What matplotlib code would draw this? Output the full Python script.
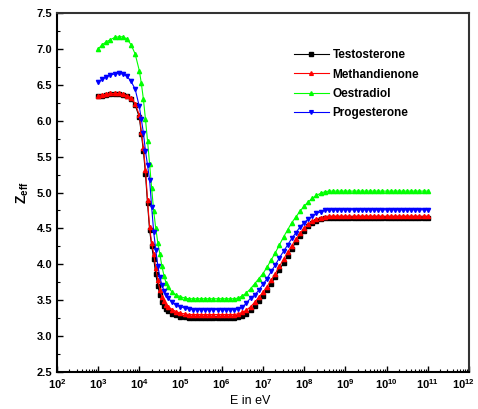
import matplotlib
matplotlib.use('Agg')
import matplotlib.pyplot as plt
from matplotlib.transforms import ScaledTranslation
from matplotlib.ticker import LogLocator, LogFormatterMathtext, MultipleLocator, NullFormatter

plt.rcParams['font.family'] = ['Liberation Sans', 'DejaVu Sans']
plt.rcParams['font.weight'] = 'bold'
plt.rcParams['mathtext.fontset'] = 'custom'
plt.rcParams['mathtext.rm'] = 'Liberation Sans:bold'
plt.rcParams['mathtext.default'] = 'rm'

# log10 of the photon energy (eV)
log_e = [3.0, 3.1, 3.2, 3.3, 3.4, 3.5, 3.6, 3.7, 3.8, 3.9, 4.0,
         4.05, 4.1, 4.15, 4.2, 4.25, 4.3, 4.35, 4.4, 4.45, 4.5, 4.55, 4.6, 4.65, 4.7,
         4.8, 4.9, 5.0, 5.1, 5.2, 5.3, 5.4, 5.5, 5.6, 5.7, 5.8, 5.9, 6.0, 6.1, 6.2, 6.3,
         6.4, 6.5, 6.6, 6.7, 6.8, 6.9, 7.0, 7.1, 7.2, 7.3, 7.4, 7.5, 7.6, 7.7, 7.8, 7.9,
         8.0, 8.1, 8.2, 8.3, 8.4, 8.5, 8.6, 8.7, 8.8, 8.9, 9.0, 9.1, 9.2, 9.3, 9.4, 9.5,
         9.6, 9.7, 9.8, 9.9, 10.0, 10.1, 10.2, 10.3, 10.4, 10.5, 10.6, 10.7, 10.8, 10.9, 11.0]

testosterone = [6.34, 6.35, 6.36, 6.37, 6.37, 6.37, 6.36, 6.34, 6.30, 6.22, 6.05,
                5.82, 5.58, 5.26, 4.85, 4.48, 4.26, 4.08, 3.86, 3.70, 3.57, 3.48, 3.42, 3.38, 3.35,
                3.31, 3.29, 3.27, 3.26, 3.25, 3.25, 3.25, 3.25, 3.25, 3.25, 3.25, 3.25, 3.25, 3.25, 3.25, 3.25,
                3.26, 3.28, 3.31, 3.36, 3.42, 3.49, 3.56, 3.64, 3.73, 3.82, 3.92, 4.02, 4.12, 4.22, 4.31, 4.40,
                4.47, 4.53, 4.58, 4.61, 4.63, 4.64, 4.65, 4.65, 4.65, 4.65, 4.65, 4.65, 4.65, 4.65, 4.65, 4.65,
                4.65, 4.65, 4.65, 4.65, 4.65, 4.65, 4.65, 4.65, 4.65, 4.65, 4.65, 4.65, 4.65, 4.65, 4.65]

methandienone = [6.35, 6.36, 6.37, 6.38, 6.38, 6.38, 6.37, 6.35, 6.32, 6.24, 6.08,
                 5.85, 5.62, 5.32, 4.90, 4.52, 4.30, 4.15, 3.95, 3.78, 3.64, 3.55, 3.49, 3.44, 3.41,
                 3.37, 3.34, 3.32, 3.31, 3.30, 3.30, 3.30, 3.30, 3.30, 3.30, 3.30, 3.30, 3.30, 3.30, 3.30, 3.30,
                 3.31, 3.33, 3.36, 3.41, 3.47, 3.54, 3.61, 3.69, 3.78, 3.87, 3.97, 4.07, 4.17, 4.26, 4.35, 4.43,
                 4.50, 4.56, 4.60, 4.63, 4.65, 4.66, 4.67, 4.67, 4.67, 4.67, 4.67, 4.67, 4.67, 4.67, 4.67, 4.67,
                 4.67, 4.67, 4.67, 4.67, 4.67, 4.67, 4.67, 4.67, 4.67, 4.67, 4.67, 4.67, 4.67, 4.67, 4.67]

oestradiol = [7.00, 7.06, 7.10, 7.13, 7.16, 7.17, 7.17, 7.14, 7.06, 6.93, 6.70,
              6.52, 6.30, 6.02, 5.72, 5.40, 5.06, 4.74, 4.50, 4.30, 4.14, 3.97, 3.84, 3.74, 3.68,
              3.61, 3.57, 3.55, 3.53, 3.52, 3.52, 3.52, 3.52, 3.52, 3.52, 3.52, 3.52, 3.52, 3.52, 3.52, 3.52,
              3.53, 3.56, 3.60, 3.66, 3.73, 3.80, 3.87, 3.96, 4.06, 4.16, 4.27, 4.38, 4.48, 4.58, 4.66, 4.74,
              4.81, 4.87, 4.92, 4.96, 4.99, 5.01, 5.02, 5.02, 5.02, 5.02, 5.02, 5.02, 5.02, 5.02, 5.02, 5.02,
              5.02, 5.02, 5.02, 5.02, 5.02, 5.02, 5.02, 5.02, 5.02, 5.02, 5.02, 5.02, 5.02, 5.02, 5.02]

progesterone = [6.54, 6.58, 6.61, 6.64, 6.65, 6.66, 6.65, 6.62, 6.55, 6.44, 6.20,
                6.02, 5.83, 5.58, 5.38, 5.18, 4.80, 4.45, 4.20, 3.98, 3.82, 3.71, 3.63, 3.57, 3.53,
                3.47, 3.43, 3.41, 3.39, 3.38, 3.37, 3.37, 3.37, 3.37, 3.37, 3.37, 3.37, 3.37, 3.37, 3.37, 3.37,
                3.38, 3.40, 3.46, 3.53, 3.57, 3.64, 3.72, 3.80, 3.90, 3.99, 4.09, 4.18, 4.27, 4.36, 4.44, 4.52,
                4.58, 4.63, 4.67, 4.71, 4.73, 4.75, 4.76, 4.76, 4.76, 4.76, 4.76, 4.76, 4.76, 4.76, 4.76, 4.76,
                4.76, 4.76, 4.76, 4.76, 4.76, 4.76, 4.76, 4.76, 4.76, 4.76, 4.76, 4.76, 4.76, 4.76, 4.76]

energy = [10 ** v for v in log_e]
decade_ticks = [1e2, 1e3, 1e4, 1e5, 1e6, 1e7, 1e8, 1e9, 1e10, 1e11, 1e12]

series = [
    ('Testosterone', testosterone, 'black', 's'),
    ('Methandienone', methandienone, 'red', '^'),
    ('Oestradiol', oestradiol, '#00ff00', '^'),
    ('Progesterone', progesterone, 'blue', 'v'),
]

fig = plt.figure(figsize=(4.78, 4.09), dpi=100)
ax = fig.add_axes([0.119, 0.0905, 0.862, 0.8775])

for name, vals, col, mk in series:
    ax.plot(energy, vals, color=col, marker=mk, markersize=3, linewidth=0.8, label=name)

ax.set_xscale('log')
ax.set_xlim(1e2, 1e12)
ax.set_ylim(2.5, 7.5)
ax.set_xticks(decade_ticks)
ax.xaxis.set_minor_locator(LogLocator(base=10, subs=(2, 3, 4, 5, 6, 7, 8, 9), numticks=20))
ax.xaxis.set_major_formatter(LogFormatterMathtext())
ax.xaxis.set_minor_formatter(NullFormatter())
ax.yaxis.set_major_locator(MultipleLocator(0.5))
ax.yaxis.set_minor_locator(MultipleLocator(0.25))
ax.yaxis.set_major_formatter(plt.FormatStrFormatter('%.1f'))

ax.tick_params(which='both', direction='in', top=False, right=False, labelsize=8)
ax.tick_params(which='major', length=4, width=1)
ax.tick_params(which='minor', length=2, width=0.8)
for s in ['left', 'bottom']:
    ax.spines[s].set_linewidth(1.5)
for s in ['top', 'right']:
    ax.spines[s].set_linewidth(1.5)
    ax.spines[s].set_color('#333333')

# keep the 10^12 label inside the canvas
last = ax.get_xticklabels()[-1]
last.set_horizontalalignment('right')
last.set_transform(last.get_transform() + ScaledTranslation(0.06, 0, fig.dpi_scale_trans))

ax.set_xlabel('E in eV', fontsize=9)
ax.xaxis.set_label_coords(0.47, -0.065)
ax.set_ylabel(r'$Z_{eff}$', fontsize=10, labelpad=4)

ax.legend(loc='upper left', bbox_to_anchor=(0.56, 0.915), frameon=False, fontsize=8.5,
          handlelength=3.0, handletextpad=0.3, labelspacing=0.6, borderpad=0, markerscale=0.9)

fig.savefig('out.png', dpi=100)
